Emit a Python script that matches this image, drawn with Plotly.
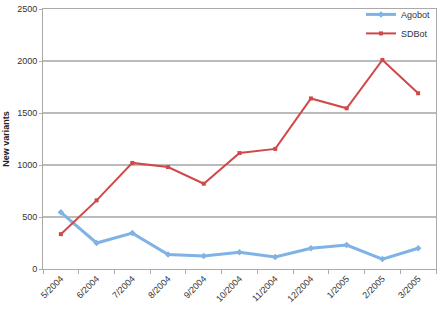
import plotly.graph_objects as go

months = ["5/2004", "6/2004", "7/2004", "8/2004", "9/2004", "10/2004",
          "11/2004", "12/2004", "1/2005", "2/2005", "3/2005"]
agobot = [545, 250, 345, 140, 125, 160, 115, 200, 230, 95, 200]
sdbot = [335, 660, 1020, 980, 820, 1115, 1155, 1640, 1545, 2010, 1690]
y_ticks = [0, 500, 1000, 1500, 2000, 2500]

fig = go.Figure()
fig.add_trace(go.Scatter(
    x=months, y=agobot, name="Agobot", mode="lines+markers",
    line=dict(color="#7fb2e5", width=3),
    marker=dict(symbol="diamond", size=5, color="#7fb2e5"),
))
fig.add_trace(go.Scatter(
    x=months, y=sdbot, name="SDBot", mode="lines+markers",
    line=dict(color="#d04848", width=2),
    marker=dict(symbol="square", size=4, color="#d04848"),
))

fig.update_layout(
    width=446, height=312,
    margin=dict(l=43, r=10, t=9, b=43, autoexpand=False),
    paper_bgcolor="white", plot_bgcolor="white",
    font=dict(family="Liberation Sans, Arial, sans-serif", size=9, color="#333"),
    showlegend=True,
    legend=dict(x=1.0, y=1.035, xanchor="right", yanchor="top",
                bgcolor="rgba(0,0,0,0)", font=dict(size=9, color="#333"),
                itemwidth=30, tracegroupgap=0),
)
fig.update_xaxes(
    type="category", categoryorder="array", categoryarray=months,
    range=[-0.5, 10.5], tickangle=-45, tickson="boundaries",
    ticks="outside", ticklen=4, tickcolor="#aaa",
    showline=True, linecolor="#aaa", linewidth=1, mirror=True,
    showgrid=False, tickfont=dict(size=9, color="#333"),
)
fig.update_yaxes(
    range=[0, 2500], tickvals=y_ticks, ticks="outside", ticklen=3,
    tickcolor="#aaa", showline=True, linecolor="#aaa", linewidth=1, mirror=True,
    showgrid=True, gridcolor="#bbbbbb", gridwidth=1.5, zeroline=False,
    title=dict(text="<b>New variants</b>", font=dict(size=9, color="#222"), standoff=6),
    tickfont=dict(size=9, color="#333"),
)

fig.write_html("out.html")
